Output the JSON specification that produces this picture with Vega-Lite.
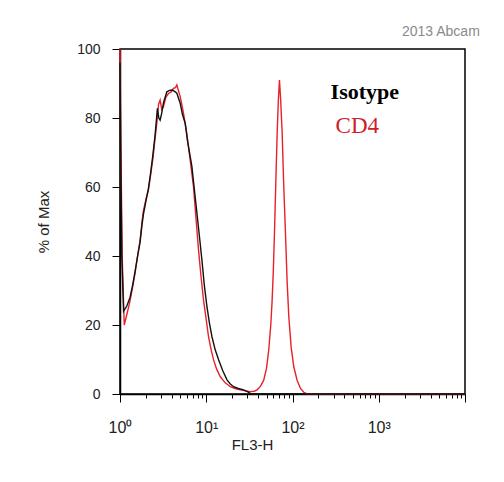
{
  "$schema": "https://vega.github.io/schema/vega-lite/v6.json",
  "width": 345,
  "height": 345,
  "autosize": {"type": "none"},
  "padding": {"left": 120, "top": 49, "right": 39, "bottom": 88},
  "background": "white",
  "title": {"text": "2013 Abcam", "anchor": "end", "font": "Liberation Sans", "fontSize": 14, "fontWeight": "normal", "color": "#8a8a8a", "baseline": "alphabetic", "offset": 12, "dx": 12, "dy": 20},
  "datasets": {
    "cd4": [
      {"fl3h": 1.0, "pct": 100}, {"fl3h": 1.02, "pct": 75}, {"fl3h": 1.06, "pct": 40}, {"fl3h": 1.12, "pct": 20},
      {"fl3h": 1.2, "pct": 23}, {"fl3h": 1.307, "pct": 27}, {"fl3h": 1.4, "pct": 31}, {"fl3h": 1.494, "pct": 35},
      {"fl3h": 1.6, "pct": 40}, {"fl3h": 1.709, "pct": 44.5}, {"fl3h": 1.8, "pct": 50}, {"fl3h": 1.866, "pct": 53},
      {"fl3h": 2.0, "pct": 56.5}, {"fl3h": 2.133, "pct": 59}, {"fl3h": 2.25, "pct": 63}, {"fl3h": 2.399, "pct": 68},
      {"fl3h": 2.55, "pct": 74}, {"fl3h": 2.671, "pct": 78.5}, {"fl3h": 2.8, "pct": 84}, {"fl3h": 2.918, "pct": 85.2},
      {"fl3h": 3.05, "pct": 82.5}, {"fl3h": 3.187, "pct": 83.3}, {"fl3h": 3.4, "pct": 86}, {"fl3h": 3.643, "pct": 87.1},
      {"fl3h": 3.9, "pct": 87.5}, {"fl3h": 4.167, "pct": 88.6}, {"fl3h": 4.4, "pct": 88.8}, {"fl3h": 4.563, "pct": 89.6},
      {"fl3h": 4.75, "pct": 88}, {"fl3h": 4.985, "pct": 86.2}, {"fl3h": 5.2, "pct": 84}, {"fl3h": 5.445, "pct": 81.4},
      {"fl3h": 5.9, "pct": 76}, {"fl3h": 6.516, "pct": 67.8}, {"fl3h": 7.118, "pct": 60}, {"fl3h": 7.6, "pct": 51},
      {"fl3h": 8.139, "pct": 41.7}, {"fl3h": 8.7, "pct": 34}, {"fl3h": 9.3, "pct": 27.2}, {"fl3h": 10.0, "pct": 21.5},
      {"fl3h": 10.63, "pct": 16.6}, {"fl3h": 11.4, "pct": 12.8}, {"fl3h": 12.16, "pct": 9.9}, {"fl3h": 13.2, "pct": 7.2},
      {"fl3h": 14.55, "pct": 5}, {"fl3h": 16.5, "pct": 3.3}, {"fl3h": 19.01, "pct": 2.1}, {"fl3h": 21.5, "pct": 1.6},
      {"fl3h": 24.85, "pct": 1.2}, {"fl3h": 28.5, "pct": 0.9}, {"fl3h": 32.48, "pct": 0.7}, {"fl3h": 36, "pct": 0.8},
      {"fl3h": 38.87, "pct": 1.2}, {"fl3h": 42.5, "pct": 2.2}, {"fl3h": 46.38, "pct": 4}, {"fl3h": 50, "pct": 7.5},
      {"fl3h": 53.02, "pct": 12.8}, {"fl3h": 56, "pct": 20}, {"fl3h": 58.07, "pct": 27.2}, {"fl3h": 60, "pct": 36},
      {"fl3h": 61.77, "pct": 46.6}, {"fl3h": 64, "pct": 61}, {"fl3h": 66.4, "pct": 75.6}, {"fl3h": 68.5, "pct": 85},
      {"fl3h": 70.6, "pct": 91}, {"fl3h": 73, "pct": 85}, {"fl3h": 75.9, "pct": 75.6}, {"fl3h": 79, "pct": 61},
      {"fl3h": 82.9, "pct": 46.6}, {"fl3h": 86.5, "pct": 33}, {"fl3h": 90.6, "pct": 22.4}, {"fl3h": 96.5, "pct": 13.5},
      {"fl3h": 103.5, "pct": 7.9}, {"fl3h": 113, "pct": 4}, {"fl3h": 123.9, "pct": 1.6}, {"fl3h": 135, "pct": 0.5},
      {"fl3h": 148.2, "pct": 0}, {"fl3h": 10000, "pct": 0}
    ],
    "isotype": [
      {"fl3h": 1.0, "pct": 96}, {"fl3h": 1.02, "pct": 70}, {"fl3h": 1.05, "pct": 40}, {"fl3h": 1.1, "pct": 24},
      {"fl3h": 1.2, "pct": 25.5}, {"fl3h": 1.307, "pct": 28}, {"fl3h": 1.4, "pct": 31.5}, {"fl3h": 1.494, "pct": 35.5},
      {"fl3h": 1.6, "pct": 40}, {"fl3h": 1.709, "pct": 44}, {"fl3h": 1.8, "pct": 49}, {"fl3h": 1.866, "pct": 52},
      {"fl3h": 2.0, "pct": 56}, {"fl3h": 2.133, "pct": 59.5}, {"fl3h": 2.25, "pct": 63.5}, {"fl3h": 2.399, "pct": 69},
      {"fl3h": 2.55, "pct": 75}, {"fl3h": 2.715, "pct": 82.8}, {"fl3h": 2.82, "pct": 80}, {"fl3h": 2.918, "pct": 79.4},
      {"fl3h": 3.05, "pct": 81.5}, {"fl3h": 3.2, "pct": 84.5}, {"fl3h": 3.49, "pct": 87.6}, {"fl3h": 3.75, "pct": 88},
      {"fl3h": 3.993, "pct": 88.1}, {"fl3h": 4.3, "pct": 87.7}, {"fl3h": 4.563, "pct": 87.2}, {"fl3h": 4.985, "pct": 84.3},
      {"fl3h": 5.3, "pct": 81}, {"fl3h": 5.7, "pct": 78.5}, {"fl3h": 6.1, "pct": 73}, {"fl3h": 6.516, "pct": 68.8},
      {"fl3h": 6.82, "pct": 65.9}, {"fl3h": 7.3, "pct": 59}, {"fl3h": 7.8, "pct": 52.4}, {"fl3h": 8.35, "pct": 45.5},
      {"fl3h": 8.91, "pct": 38.8}, {"fl3h": 9.5, "pct": 31.5}, {"fl3h": 10.19, "pct": 25.3}, {"fl3h": 10.9, "pct": 20.5},
      {"fl3h": 11.65, "pct": 16.6}, {"fl3h": 12.7, "pct": 12.8}, {"fl3h": 13.9, "pct": 9.9}, {"fl3h": 15.5, "pct": 6.8},
      {"fl3h": 17.41, "pct": 4.1}, {"fl3h": 19, "pct": 2.9}, {"fl3h": 20.77, "pct": 2.1}, {"fl3h": 23.5, "pct": 1.6},
      {"fl3h": 27.15, "pct": 1.2}, {"fl3h": 30, "pct": 0.7}, {"fl3h": 32.48, "pct": 0.2}, {"fl3h": 34.3, "pct": 0},
      {"fl3h": 10000, "pct": 0}
    ],
    "labels": [
      {"name": "Isotype", "fl3h": 276.6, "pct": 85.5},
      {"name": "CD4", "fl3h": 316.2, "pct": 75.7}
    ]
  },
  "layer": [
    {
      "data": {"name": "cd4"},
      "mark": {"type": "line", "color": "#e8202a", "strokeWidth": 1.4},
      "encoding": {
        "x": {
          "field": "fl3h", "type": "quantitative",
          "scale": {"type": "log", "domain": [1, 10000]},
          "axis": {
            "values": [1,2,3,4,5,6,7,8,9,10,20,30,40,50,60,70,80,90,100,200,300,400,500,600,700,800,900,1000,2000,3000,4000,5000,6000,7000,8000,9000,10000],
            "labelExpr": "datum.value == 1 ? '10⁰' : datum.value == 10 ? '10¹' : datum.value == 100 ? '10²' : datum.value == 1000 ? '10³' : ''",
            "tickSize": {"condition": {"test": "indexof([1,10,100,1000,10000], datum.value) >= 0", "value": 8}, "value": 4},
            "tickColor": "black",
            "domainColor": "black",
            "domainWidth": 1.5,
            "grid": false,
            "labelOverlap": false,
            "labelFlush": false,
            "labelBound": false,
            "labelFont": "Liberation Sans",
            "labelFontSize": 16,
            "labelColor": "#222",
            "labelPadding": 17,
            "title": "FL3-H",
            "titleFont": "Liberation Sans",
            "titleFontSize": 15,
            "titleFontWeight": "normal",
            "titleColor": "#222",
            "titleX": 132,
            "titleY": 50,
            "titleAlign": "center",
            "titleBaseline": "middle"
          }
        },
        "y": {
          "field": "pct", "type": "quantitative",
          "scale": {"domain": [0, 100], "nice": false},
          "axis": {
            "values": [0,5,10,15,20,25,30,35,40,45,50,55,60,65,70,75,80,85,90,95,100],
            "labelExpr": "datum.value % 20 === 0 ? datum.label : ''",
            "tickSize": {"condition": {"test": "datum.value % 20 === 0", "value": 8}, "value": 4},
            "tickColor": "black",
            "domainColor": "black",
            "domainWidth": 1.5,
            "grid": false,
            "labelOverlap": false,
            "labelFont": "Liberation Sans",
            "labelFontSize": 14,
            "labelColor": "#222",
            "labelPadding": 12,
            "title": "% of Max",
            "titleFont": "Liberation Sans",
            "titleFontSize": 15,
            "titleFontWeight": "normal",
            "titleColor": "#222",
            "titlePadding": 25
          }
        }
      }
    },
    {
      "data": {"name": "isotype"},
      "mark": {"type": "line", "color": "#111111", "strokeWidth": 1.4},
      "encoding": {
        "x": {"field": "fl3h", "type": "quantitative"},
        "y": {"field": "pct", "type": "quantitative"}
      }
    },
    {
      "data": {"name": "labels"},
      "transform": [{"filter": "datum.name === 'Isotype'"}],
      "mark": {"type": "text", "font": "Liberation Serif", "fontSize": 22, "fontWeight": "bold", "color": "#000000", "align": "left", "baseline": "alphabetic"},
      "encoding": {
        "x": {"field": "fl3h", "type": "quantitative"},
        "y": {"field": "pct", "type": "quantitative"},
        "text": {"field": "name"}
      }
    },
    {
      "data": {"name": "labels"},
      "transform": [{"filter": "datum.name === 'CD4'"}],
      "mark": {"type": "text", "font": "Liberation Serif", "fontSize": 23, "fontWeight": "normal", "color": "#cc1f2a", "align": "left", "baseline": "alphabetic"},
      "encoding": {
        "x": {"field": "fl3h", "type": "quantitative"},
        "y": {"field": "pct", "type": "quantitative"},
        "text": {"field": "name"}
      }
    }
  ],
  "config": {"view": {"stroke": "black", "strokeWidth": 1.5}}
}
